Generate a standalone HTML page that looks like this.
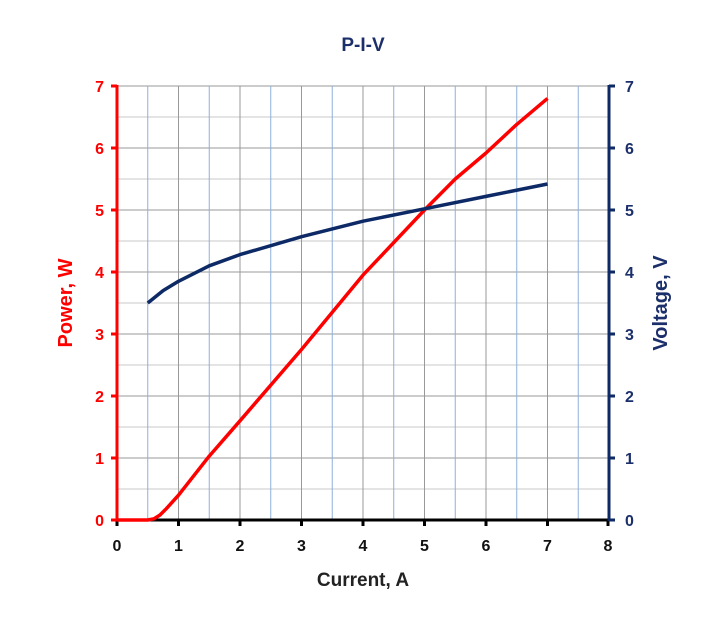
<!DOCTYPE html>
<html><head><meta charset="utf-8"><style>
html,body{margin:0;padding:0;background:#fff}
svg{display:block}
text{font-family:"Liberation Sans",sans-serif;font-weight:bold}
</style></head><body>
<svg width="727" height="644" viewBox="0 0 727 644" xmlns="http://www.w3.org/2000/svg">
<rect width="727" height="644" fill="#fff"/>
<text x="363" y="51" text-anchor="middle" font-size="19" fill="#1b2f6b">P-I-V</text>
<g stroke-width="1">
<g stroke="#c8c8c8">
<line x1="117" y1="117" x2="609" y2="117"/><line x1="117" y1="179" x2="609" y2="179"/>
<line x1="117" y1="241" x2="609" y2="241"/><line x1="117" y1="303" x2="609" y2="303"/>
<line x1="117" y1="365" x2="609" y2="365"/><line x1="117" y1="427" x2="609" y2="427"/>
<line x1="117" y1="489" x2="609" y2="489"/>
</g>
<g stroke="#999">
<line x1="117" y1="86" x2="609" y2="86"/><line x1="117" y1="148" x2="609" y2="148"/>
<line x1="117" y1="210" x2="609" y2="210"/><line x1="117" y1="272" x2="609" y2="272"/>
<line x1="117" y1="334" x2="609" y2="334"/><line x1="117" y1="396" x2="609" y2="396"/>
<line x1="117" y1="458" x2="609" y2="458"/>
<line x1="178.5" y1="86" x2="178.5" y2="520"/><line x1="240" y1="86" x2="240" y2="520"/>
<line x1="301.5" y1="86" x2="301.5" y2="520"/><line x1="363" y1="86" x2="363" y2="520"/>
<line x1="424.5" y1="86" x2="424.5" y2="520"/><line x1="486" y1="86" x2="486" y2="520"/>
<line x1="547.5" y1="86" x2="547.5" y2="520"/>
</g>
<g stroke="#8fb0dc">
<line x1="147.75" y1="86" x2="147.75" y2="520"/><line x1="209.25" y1="86" x2="209.25" y2="520"/>
<line x1="270.75" y1="86" x2="270.75" y2="520"/><line x1="332.25" y1="86" x2="332.25" y2="520"/>
<line x1="393.75" y1="86" x2="393.75" y2="520"/><line x1="455.25" y1="86" x2="455.25" y2="520"/>
<line x1="516.75" y1="86" x2="516.75" y2="520"/><line x1="578.25" y1="86" x2="578.25" y2="520"/>
</g>
</g>
<line x1="117" y1="520" x2="609" y2="520" stroke="#000" stroke-width="3"/>
<g stroke="#000" stroke-width="3">
<line x1="117" y1="520" x2="117" y2="526"/><line x1="178.5" y1="520" x2="178.5" y2="526"/>
<line x1="240" y1="520" x2="240" y2="526"/><line x1="301.5" y1="520" x2="301.5" y2="526"/>
<line x1="363" y1="520" x2="363" y2="526"/><line x1="424.5" y1="520" x2="424.5" y2="526"/>
<line x1="486" y1="520" x2="486" y2="526"/><line x1="547.5" y1="520" x2="547.5" y2="526"/>
<line x1="608" y1="520" x2="608" y2="526"/>
</g>
<line x1="117" y1="85" x2="117" y2="521" stroke="#ff0000" stroke-width="3"/>
<g stroke="#ff0000" stroke-width="3">
<line x1="111" y1="86" x2="117" y2="86"/><line x1="111" y1="148" x2="117" y2="148"/>
<line x1="111" y1="210" x2="117" y2="210"/><line x1="111" y1="272" x2="117" y2="272"/>
<line x1="111" y1="334" x2="117" y2="334"/><line x1="111" y1="396" x2="117" y2="396"/>
<line x1="111" y1="458" x2="117" y2="458"/><line x1="111" y1="520" x2="117" y2="520"/>
</g>
<line x1="609" y1="85" x2="609" y2="521" stroke="#0d2a66" stroke-width="3"/>
<g stroke="#0d2a66" stroke-width="3">
<line x1="609" y1="86" x2="615" y2="86"/><line x1="609" y1="148" x2="615" y2="148"/>
<line x1="609" y1="210" x2="615" y2="210"/><line x1="609" y1="272" x2="615" y2="272"/>
<line x1="609" y1="334" x2="615" y2="334"/><line x1="609" y1="396" x2="615" y2="396"/>
<line x1="609" y1="458" x2="615" y2="458"/><line x1="609" y1="520" x2="615" y2="520"/>
</g>
<g font-size="16" fill="#ff0000" text-anchor="end">
<text x="104" y="92">7</text><text x="104" y="154">6</text><text x="104" y="216">5</text>
<text x="104" y="278">4</text><text x="104" y="340">3</text><text x="104" y="402">2</text>
<text x="104" y="464">1</text><text x="104" y="526">0</text>
</g>
<g font-size="16" fill="#1b2f6b" text-anchor="start">
<text x="625" y="92">7</text><text x="625" y="154">6</text><text x="625" y="216">5</text>
<text x="625" y="278">4</text><text x="625" y="340">3</text><text x="625" y="402">2</text>
<text x="625" y="464">1</text><text x="625" y="526">0</text>
</g>
<g font-size="16" fill="#111" text-anchor="middle">
<text x="117" y="551">0</text><text x="178.5" y="551">1</text><text x="240" y="551">2</text>
<text x="301.5" y="551">3</text><text x="363" y="551">4</text><text x="424.5" y="551">5</text>
<text x="486" y="551">6</text><text x="547.5" y="551">7</text><text x="608" y="551">8</text>
</g>
<text x="363" y="586" text-anchor="middle" font-size="19" fill="#222">Current, A</text>
<text transform="translate(72,303) rotate(-90)" text-anchor="middle" font-size="20" fill="#ff0000">Power, W</text>
<text transform="translate(667,303) rotate(-90)" text-anchor="middle" font-size="20" fill="#1b2f6b">Voltage, V</text>
<polyline fill="none" stroke="#ff0000" stroke-width="3.5" stroke-linejoin="round" points="117,520 147.75,520 153.9,518.8 160,515 166.2,508.8 178.5,495.2 209.25,456.1 240,420.8 301.5,349.5 363,275.1 424.5,210 455.25,179 486,153 516.75,124.4 547.5,98.4"/>
<polyline fill="none" stroke="#0d2a66" stroke-width="3.5" stroke-linejoin="round" points="147.75,303 163.1,290.6 178.5,281.3 209.25,265.8 240,254.6 301.5,236.7 363,221.2 424.5,208.8 486,196.4 547.5,184"/>
</svg>
</body></html>
